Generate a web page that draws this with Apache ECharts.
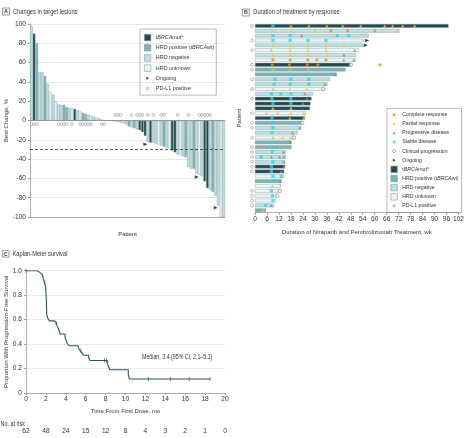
<!DOCTYPE html>
<html><head><meta charset="utf-8">
<script src="https://cdn.jsdelivr.net/npm/echarts@6.0.0/dist/echarts.min.js"></script>
<style>html,body{margin:0;padding:0;background:#fff}#c{width:467px;height:438px}</style>
</head><body><div id="c"></div>
<script>
// ---------------- Panel A: best change in target lesions ----------------
const waterfallValues = [98, 90, 80, 50, 50, 46, 38, 30, 27, 20, 17, 16, 16, 14, 13, 13, 12, 11, 10, 8, 7, 6, 5, 4, 3, 2, 1,
  0, 0, 0, 0,
  -1, -1.5, -2, -3, -4, -6, -7, -8, -9, -10, -12, -16, -22, -23, -23, -24, -25, -26,
  -27, -28, -29, -31, -33, -35, -36, -37, -38, -48, -50, -50, -55, -56, -58, -63, -70, -72, -74, -78, -88, -100, -100];
const waterfallStatus = ['N','D','P','N','N','P','N','U','N','U','N','N','P','P','N','U','D','N','U','P','P','N','U','N','U','N','U',
  'U','N','U','N',
  'N','U','N','U','N','P','N','P','N','D','D','D','N','D','N','N','U','N','P','N','U','D','D','N','U','N','P','N','N','P','N','U','N','D','D','N','P','N','N','U','N'];
const pdl1PatientsA = [0, 1, 2, 10, 11, 12, 13, 15, 18, 19, 20, 21, 22, 26, 27, 31, 32, 33, 37, 39, 40, 41, 43, 45, 48, 49, 54, 58, 62, 63, 64, 65, 66];
const ongoingPatientsA = [43, 62, 69];

// ---------------- Panel B: duration of treatment ----------------
const swimmerWeeks = [97, 72.4, 57, 54.7, 54, 52, 50.6, 50.6, 48, 45.4, 41, 37.6, 36.3, 34.5, 29, 28.3, 27.8, 27.5, 25.5, 25,
  23.7, 23, 21.5, 19.8, 18.3, 18.3, 15.5, 15.4, 15, 15.1, 14.6, 14.4, 13.3, 12.9, 12.5, 11.2, 10.6, 9.6, 5.5];
const swimmerStatus = ['D','N','N','U','N','U','N','U','D','P','P','N','N','U','N','D','D','D','U','D',
  'P','N','N','U','P','P','N','N','N','D','D','U','P','U','U','U','U','N','P'];
const pdl1RowsB = [1, 4, 6, 9, 10, 12, 14, 16, 19, 21, 22, 24, 26, 27, 28, 29, 30, 31, 35, 36, 37, 38];
const ongoingRowsB = [4, 5];
const completeResponse = [[38, 2], [46.5, 2], [60, 2], [9, 8], [17.6, 8], [26.5, 8], [31, 8], [35.6, 8],
  [8.7, 9], [17.2, 9], [26.2, 9], [31.5, 9], [62.6, 9]];
const partialResponse = [[18, 1], [27, 1], [36, 1], [44, 1], [53, 1], [65, 1], [69, 1], [74, 1], [80, 1],
  [9, 2], [18, 2], [30, 2], [71, 2],
  [9, 5], [17.6, 5], [26.5, 5], [35.6, 5], [44.6, 5],
  [8.2, 6], [17.6, 6], [26.5, 6], [35.6, 6],
  [9, 7], [17.6, 7], [26.5, 7], [36.4, 7],
  [9, 10], [18, 10], [26.8, 10],
  [9, 14], [17.6, 14], [26, 14],
  [9, 18], [18, 18],
  [5.7, 19], [11.4, 19], [18, 19], [24.5, 19],
  [17.5, 20], [24.5, 20],
  [9, 24], [13.9, 24], [18, 24],
  [8.7, 34], [3.8, 39]];
const progressiveDisease = [[23.4, 3], [50, 6], [44.6, 7], [44.5, 8], [49.5, 8], [40, 11], [35, 13], [25, 15], [26, 16], [24, 17],
  [22.5, 22], [18.8, 23], [17.5, 25], [14.3, 27], [8.2, 28], [12.3, 28], [14.4, 28], [14.4, 29], [14.4, 30], [13.1, 31],
  [12.6, 33], [8.2, 38]];
const stableDisease = [[9, 1], [9, 3], [17.6, 3], [41.3, 3], [47, 3], [9, 4], [17.6, 4], [26.5, 4], [35.6, 4], [35.6, 10],
  [8, 11], [17.2, 11], [26.9, 11], [10, 12], [18, 12], [27, 12], [9.5, 13], [17.6, 13], [27, 13],
  [8.2, 15], [13, 15], [18, 15], [8.5, 16], [18, 16], [9, 17], [18, 17], [8.5, 20], [9, 21], [18.8, 21],
  [9, 22], [8.5, 23], [8.5, 25], [8.5, 26], [8.7, 27], [3, 28], [9, 29], [8.2, 30], [8.2, 31], [9, 32], [13.1, 32],
  [8.2, 33], [8.2, 35], [8.7, 36], [9, 37], [5.4, 38]];
const clinicalProgression = [[48, 9], [34.3, 14], [23.7, 21], [19.6, 24], [12.5, 35], [11.2, 36]];
const weekTicks = [0, 6, 12, 18, 24, 30, 36, 42, 48, 54, 60, 66, 72, 78, 84, 90, 96, 102];

// ---------------- Panel C: Kaplan-Meier ----------------
const kmTime = [0, 1.14, 1.41, 1.64, 1.74, 1.84, 1.98, 2.01, 2.05, 2.08, 2.18, 2.35, 2.85, 3.08, 3.18, 3.35, 3.42, 3.92, 4.02, 4.15, 4.32,
  5.26, 5.43, 5.63, 5.76, 6.3, 6.43, 8.17, 8.31, 8.44, 10.28, 10.39, 18.5];
const kmSurv = [1.0, 0.984, 0.968, 0.952, 0.935, 0.903, 0.871, 0.806, 0.758, 0.645, 0.613, 0.59, 0.574, 0.557, 0.54, 0.507, 0.482,
  0.457, 0.431, 0.405, 0.386, 0.367, 0.347, 0.328, 0.309, 0.288, 0.266, 0.242, 0.213, 0.19, 0.152, 0.114, 0.114];
const censorTime = [0, 1.9, 3.0, 5.5, 7.9, 8.1, 12.3, 14.5, 16.4, 18.5];
const atRisk = [62, 48, 24, 15, 12, 8, 4, 3, 2, 1, 0];

// ---------------- styling ----------------
const FONT = '"Liberation Sans", Arial, sans-serif';
const STATUS_NAME = {D: 'tBRCAmut', P: 'HRD positive (tBRCAwt)', N: 'HRD negative', U: 'HRD unknown'};
const STATUS_COLOR = {D: '#26484e', P: '#80b2b4', N: '#bfe0e1', U: '#ebf5f5'};
const BAR_BORDER = '#7f9c9e';
const TXT = '#333';
const AX = '#9a9a9a';
const ARROW = 'path://M0,0 L10,5 L0,10 Z';
const pad = p => 'path://M0,0 M10,10 ' + p;
const ICON_CIRCLE_SMALL = pad('M5,3.2 A1.8,1.8 0 1 1 5,6.8 A1.8,1.8 0 1 1 5,3.2 Z');
const ICON_CIRCLE = pad('M5,2.6 A2.4,2.4 0 1 1 5,7.4 A2.4,2.4 0 1 1 5,2.6 Z');
const ICON_TRI = pad('M5,2.6 L7.6,7.2 L2.4,7.2 Z');
const ICON_SQ = pad('M3,3 L7,3 L7,7 L3,7 Z');
const ICON_ARROW = pad('M3,2.8 L7.4,5 L3,7.2 Z');

function survAt(t) { let s = 1; for (let i = 0; i < kmTime.length; i++) { if (kmTime[i] <= t) s = kmSurv[i]; } return s; }

const chart = echarts.init(document.getElementById('c'), null, {renderer: 'canvas'});

const codes = ['D', 'P', 'N', 'U'];
const catsA = waterfallValues.map((_, i) => String(i + 1));
const rowsB = swimmerWeeks.map((_, i) => String(i + 1));

const series = [];
codes.forEach((c, k) => {
  const s = {
    name: STATUS_NAME[c], type: 'bar', xAxisIndex: 0, yAxisIndex: 0,
    data: waterfallValues.map((v, i) => waterfallStatus[i] === c ? v : '-'),
    barGap: '-100%', barCategoryGap: '6%',
    itemStyle: {color: STATUS_COLOR[c], borderColor: BAR_BORDER, borderWidth: 0.4},
    silent: true, animation: false
  };
  if (k === 0) {
    s.markLine = {
      silent: true, symbol: 'none', label: {show: false}, animation: false,
      data: [
        {yAxis: 0, lineStyle: {color: '#8a8a8a', width: 0.8, type: 'solid'}},
        {yAxis: -30, lineStyle: {color: '#333', width: 0.8, type: [3, 2]}}
      ]
    };
  }
  series.push(s);
});
const hollow = {color: '#fff', borderColor: '#777', borderWidth: 0.6};
series.push({
  name: 'PD-L1 positive', type: 'scatter', xAxisIndex: 0, yAxisIndex: 0,
  data: pdl1PatientsA.map(i => [i, waterfallValues[i] < 0 ? 5.8 : -3.8]),
  symbol: 'circle', symbolSize: 2.8, z: 5, itemStyle: hollow, silent: true, animation: false
});
series.push({
  name: 'Ongoing', type: 'scatter', xAxisIndex: 0, yAxisIndex: 0,
  data: ongoingPatientsA.map(i => [i, waterfallValues[i] - 2.5]),
  symbol: ARROW, symbolSize: [4, 3.5], symbolOffset: [-2.5, 0], z: 6,
  itemStyle: {color: '#111'}, silent: true, animation: false
});

codes.forEach(c => {
  series.push({
    name: STATUS_NAME[c], type: 'bar', xAxisIndex: 1, yAxisIndex: 1,
    data: swimmerWeeks.map((v, i) => swimmerStatus[i] === c ? v : '-'),
    barGap: '-100%', barWidth: 3.7,
    itemStyle: {color: STATUS_COLOR[c], borderColor: BAR_BORDER, borderWidth: 0.4},
    silent: true, animation: false
  });
});
const toPts = arr => arr.map(p => [p[0], p[1] - 1]);
const C_COMPLETE = '#f08a1e', C_PARTIAL = '#f2c234', C_PROG = '#8b8b8b', C_STABLE = '#2dd5e8';
series.push({name: 'Complete response', type: 'scatter', xAxisIndex: 1, yAxisIndex: 1, data: toPts(completeResponse),
  symbol: 'circle', symbolSize: 3.2, itemStyle: {color: C_COMPLETE}, z: 6, clip: false, silent: true, animation: false});
series.push({name: 'Partial response', type: 'scatter', xAxisIndex: 1, yAxisIndex: 1, data: toPts(partialResponse),
  symbol: 'triangle', symbolSize: [3.6, 3.2], itemStyle: {color: C_PARTIAL}, z: 6, clip: false, silent: true, animation: false});
series.push({name: 'Progressive disease', type: 'scatter', xAxisIndex: 1, yAxisIndex: 1, data: toPts(progressiveDisease),
  symbol: 'triangle', symbolSize: [3.4, 3], itemStyle: {color: C_PROG}, z: 6, clip: false, silent: true, animation: false});
series.push({name: 'Stable disease', type: 'scatter', xAxisIndex: 1, yAxisIndex: 1, data: toPts(stableDisease),
  symbol: 'rect', symbolSize: 3.2, itemStyle: {color: C_STABLE}, z: 6, clip: false, silent: true, animation: false});
series.push({name: 'Clinical progression', type: 'scatter', xAxisIndex: 1, yAxisIndex: 1, data: toPts(clinicalProgression),
  symbol: 'circle', symbolSize: 3.3, itemStyle: {color: '#fff', borderColor: '#777', borderWidth: 0.7}, z: 6, clip: false, silent: true, animation: false});
series.push({name: 'Ongoing', type: 'scatter', xAxisIndex: 1, yAxisIndex: 1,
  data: ongoingRowsB.map(r => [swimmerWeeks[r - 1], r - 1]),
  symbol: ARROW, symbolSize: [4, 3.6], symbolOffset: [3, 0], itemStyle: {color: '#111'}, z: 6, clip: false, silent: true, animation: false});
series.push({name: 'PD-L1 positive', type: 'scatter', xAxisIndex: 1, yAxisIndex: 1,
  data: pdl1RowsB.map(r => [-1.5, r - 1]),
  symbol: 'circle', symbolSize: 2.8, itemStyle: hollow, z: 6, clip: false, silent: true, animation: false});

series.push({
  name: 'PFS', type: 'line', xAxisIndex: 2, yAxisIndex: 2, step: 'end',
  data: kmTime.map((t, i) => [t, kmSurv[i]]), showSymbol: false, symbol: 'none',
  lineStyle: {color: '#2d5459', width: 1.1}, silent: true, animation: false
});
series.push({
  name: 'Censored', type: 'scatter', xAxisIndex: 2, yAxisIndex: 2,
  data: censorTime.map(t => [t, survAt(t)]), symbol: 'rect', symbolSize: [0.8, 4],
  itemStyle: {color: '#2d5459'}, silent: true, animation: false, clip: false
});

const legendFormatter = name => {
  if (name === 'tBRCAmut') return '{n|t}{i|BRCA}{n|mut}{s|a}';
  if (name === 'HRD positive (tBRCAwt)') return '{n|HRD positive (t}{i|BRCA}{n|wt)}';
  return '{n|' + name + '}';
};
const legendRich = fs => ({
  n: {fontSize: fs, fontFamily: FONT, color: TXT, lineHeight: 7},
  i: {fontSize: fs, fontFamily: FONT, color: TXT, fontStyle: 'italic', lineHeight: 7},
  s: {fontSize: fs - 1.5, fontFamily: FONT, color: TXT, verticalAlign: 'top', lineHeight: 7}
});
const barIcons = codes.map(c => ({name: STATUS_NAME[c], icon: 'rect',
  itemStyle: {color: STATUS_COLOR[c], borderColor: BAR_BORDER, borderWidth: 0.6}}));
const hollowIcon = {color: '#fff', borderColor: '#777', borderWidth: 0.7};

const axisLabelStyle = {fontSize: 6.6, color: TXT, fontFamily: FONT};
const nameStyle = {fontSize: 6, color: TXT, fontFamily: FONT};

const txt = (x, y, text, size, sx) => ({type: 'text', x: x, y: y, scaleX: sx, scaleY: 1,
  style: {text: text, fontSize: size, fill: TXT, verticalAlign: 'middle', fontFamily: FONT}});
const boxLetter = (x, y, w, letter) => [
  {type: 'rect', shape: {x: x, y: y, width: w, height: w}, style: {fill: '#fff', stroke: '#555', lineWidth: 0.6}},
  {type: 'text', x: x + w / 2, y: y + w / 2 + 0.2, style: {text: letter, fontSize: 5.3, fontWeight: 'bold', fill: TXT, align: 'center', verticalAlign: 'middle', fontFamily: FONT}}
];

const option = {
  animation: false,
  backgroundColor: '#fff',
  textStyle: {fontFamily: FONT},
  grid: [
    {left: 30, top: 24, width: 195, height: 193},
    {left: 255, top: 23.5, width: 208, height: 189.2},
    {left: 26, top: 270.7, width: 199, height: 122.3}
  ],
  xAxis: [
    {type: 'category', gridIndex: 0, data: catsA, axisLine: {onZero: false, lineStyle: {color: AX, width: 0.8}},
      axisTick: {show: false}, axisLabel: {show: false}, splitLine: {show: false},
      name: 'Patient', nameLocation: 'middle', nameGap: 14, nameTextStyle: nameStyle},
    {type: 'value', gridIndex: 1, min: 0, max: 102, interval: 6,
      axisLine: {show: true, lineStyle: {color: AX, width: 0.8}}, axisTick: {show: true, length: 2, lineStyle: {color: AX}},
      axisLabel: Object.assign({margin: 3, formatter: v => weekTicks.includes(v) ? String(v) : ''}, axisLabelStyle), splitLine: {show: false},
      name: 'Duration of Niraparib and Pembrolizumab Treatment, wk', nameLocation: 'middle', nameGap: 17, nameTextStyle: nameStyle},
    {type: 'value', gridIndex: 2, min: 0, max: 20, interval: 2,
      axisLine: {show: true, lineStyle: {color: AX, width: 0.8}}, axisTick: {show: true, length: 2, lineStyle: {color: AX}},
      axisLabel: Object.assign({margin: 3}, axisLabelStyle), splitLine: {show: false},
      name: 'Time From First Dose, mo', nameLocation: 'middle', nameGap: 15, nameTextStyle: nameStyle},
    {type: 'value', gridIndex: 2, min: 0, max: 20, interval: 2, position: 'bottom', offset: 35,
      axisLine: {show: false}, axisTick: {show: false}, splitLine: {show: false},
      axisLabel: Object.assign({margin: 0, formatter: v => String(atRisk[Math.round(v / 2)])}, axisLabelStyle)}
  ],
  yAxis: [
    {type: 'value', gridIndex: 0, min: -100, max: 100, interval: 20,
      axisLine: {show: true, lineStyle: {color: AX, width: 0.8}}, axisTick: {show: true, length: 2, lineStyle: {color: AX}},
      axisLabel: Object.assign({margin: 4}, axisLabelStyle),
      splitLine: {show: true, lineStyle: {color: '#dedede', width: 0.7}},
      name: 'Best Change, %', nameLocation: 'middle', nameGap: 21, nameTextStyle: nameStyle},
    {type: 'category', gridIndex: 1, data: rowsB, inverse: true,
      axisLine: {show: false}, axisTick: {show: false}, axisLabel: {show: false}, splitLine: {show: false},
      name: 'Patient', nameLocation: 'middle', nameGap: 13, nameTextStyle: nameStyle},
    {type: 'value', gridIndex: 2, min: 0, max: 1, interval: 0.2,
      axisLine: {show: true, lineStyle: {color: AX, width: 0.8}}, axisTick: {show: true, length: 2, lineStyle: {color: AX}},
      axisLabel: Object.assign({margin: 4, formatter: v => v === 0 ? '0' : v.toFixed(1)}, axisLabelStyle),
      splitLine: {show: true, lineStyle: {color: '#dedede', width: 0.7}},
      name: 'Proportion With Progression-Free Survival', nameLocation: 'middle', nameGap: 17, nameTextStyle: nameStyle}
  ],
  legend: [
    {left: 140, top: 29, orient: 'vertical', itemWidth: 6.5, itemHeight: 6.5, itemGap: 3.1, padding: [5, 2, 3, 4],
      borderColor: '#8a8a8a', borderWidth: 0.6, selectedMode: false,
      data: barIcons.concat([{name: 'Ongoing', icon: ICON_ARROW, itemStyle: {color: '#111'}},
        {name: 'PD-L1 positive', icon: ICON_CIRCLE_SMALL, itemStyle: hollowIcon}]),
      formatter: legendFormatter, textStyle: {fontSize: 5.4, lineHeight: 7, color: TXT, fontFamily: FONT, rich: legendRich(5.4)}},
    {left: 387, top: 108.3, orient: 'vertical', itemWidth: 6.5, itemHeight: 6.5, itemGap: 2.05, padding: [3, 3, 3, 3.5],
      borderColor: '#8a8a8a', borderWidth: 0.6, selectedMode: false,
      data: [
        {name: 'Complete response', icon: ICON_CIRCLE, itemStyle: {color: C_COMPLETE, borderWidth: 0}},
        {name: 'Partial response', icon: ICON_TRI, itemStyle: {color: C_PARTIAL, borderWidth: 0}},
        {name: 'Progressive disease', icon: ICON_TRI, itemStyle: {color: C_PROG, borderWidth: 0}},
        {name: 'Stable disease', icon: ICON_SQ, itemStyle: {color: C_STABLE, borderWidth: 0}},
        {name: 'Clinical progression', icon: ICON_CIRCLE, itemStyle: hollowIcon},
        {name: 'Ongoing', icon: ICON_ARROW, itemStyle: {color: '#111', borderWidth: 0}}
      ].concat(barIcons).concat([{name: 'PD-L1 positive', icon: ICON_CIRCLE_SMALL, itemStyle: hollowIcon}]),
      formatter: legendFormatter, textStyle: {fontSize: 5.2, lineHeight: 7, color: TXT, fontFamily: FONT, rich: legendRich(5.2)}}
  ],
  graphic: [].concat(
    boxLetter(2.5, 8, 7, 'A'),
    [txt(13, 11.7, 'Changes in target lesions', 6.8, 0.84)],
    boxLetter(242.3, 9, 7, 'B'),
    [txt(253.3, 12.4, 'Duration of treatment by response', 6.8, 0.84)],
    boxLetter(2.5, 250.6, 6.5, 'C'),
    [txt(12.5, 253.8, 'Kaplan-Meier survival', 6.8, 0.84),
     txt(142, 357, 'Median, 3.4 (95% CI, 2.1\u20135.1)', 6.6, 0.8),
     txt(0.5, 424, 'No. at risk', 6.6, 0.82)]
  ),
  series: series
};
chart.setOption(option);
</script>
</body></html>
